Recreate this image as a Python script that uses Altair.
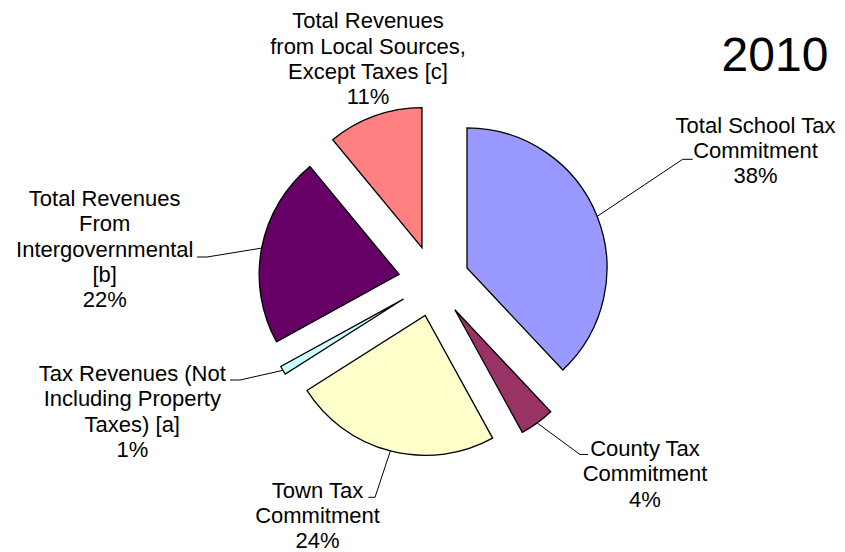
import math
import altair as alt
import pandas as pd
import numpy as np

# ---------------- data ----------------
categories = [
    "Total School Tax Commitment",
    "County Tax Commitment",
    "Town Tax Commitment",
    "Tax Revenues (Not Including Property Taxes) [a]",
    "Total Revenues From Intergovernmental [b]",
    "Total Revenues from Local Sources, Except Taxes [c]",
]
shares = [38, 4, 24, 1, 22, 11]
label_lines = [
    ["Total School Tax", "Commitment"],
    ["County Tax", "Commitment"],
    ["Town Tax", "Commitment"],
    ["Tax Revenues (Not", "Including Property", "Taxes) [a]"],
    ["Total Revenues", "From", "Intergovernmental", "[b]"],
    ["Total Revenues", "from Local Sources,", "Except Taxes [c]"],
]
chart_title = "2010"

# ---------------- style / layout ----------------
slice_colors = ["#9999FF", "#993366", "#FFFFCC", "#CCFFFF", "#660066", "#FF8080"]
FONT = "Liberation Sans"
FS = 22
LH = 25.3
W, H = 829, 544
MARGIN = 8
CX, CY = 434, 281          # pie centre in page pixels
RADIUS = 140
EXPLODE = 35.5
# label anchor: centre x, first-line baseline y (page pixels)
label_pos = [(755.5, 132.7), (645, 456), (317.5, 497.7), (132.3, 381), (104.7, 206), (368, 28.3)]
leader_elbow = [(682.7, 159.3), (580, 454.5), (375, 497.3), (240, 380), (207, 257), None]
leader_end = [(692.7, 159.3), (588, 454.5), (368.3, 497.3), (230, 380), (197, 257), None]
title_pos = (775, 70.7)


def to_data(px, py):
    return px - CX, CY - py


# ---------------- build tables ----------------
ends = np.cumsum(shares)
starts = ends - np.array(shares)
total = float(sum(shares))
mids = (starts + ends) / 2.0 / total * 2 * math.pi

pie = pd.DataFrame({
    "category": categories,
    "share": shares,
    "start": starts,
    "end": ends,
    "cx": EXPLODE * np.sin(mids),
    "cy": EXPLODE * np.cos(mids),
})

lead_rows = []
for i, cat in enumerate(categories):
    if leader_elbow[i] is None:
        continue
    r = EXPLODE + RADIUS
    lead_rows.append({"category": cat, "o": 0, "x": r * math.sin(mids[i]), "y": r * math.cos(mids[i])})
    ex, ey = to_data(*leader_elbow[i])
    lead_rows.append({"category": cat, "o": 1, "x": ex, "y": ey})
    nx, ny = to_data(*leader_end[i])
    lead_rows.append({"category": cat, "o": 2, "x": nx, "y": ny})
leads = pd.DataFrame(lead_rows)

lab_rows = []
for i, cat in enumerate(categories):
    lx, ly = to_data(*label_pos[i])
    lab_rows.append({"category": cat, "x": lx, "y": ly,
                     "label": "\n".join(label_lines[i] + [f"{shares[i]}%"])})
labels = pd.DataFrame(lab_rows)

tx, ty = to_data(*title_pos)
title_df = pd.DataFrame({"t": [chart_title], "x": [tx], "y": [ty]})

xs = alt.Scale(domain=[MARGIN - CX, MARGIN + W - CX], nice=False, zero=False)
ys = alt.Scale(domain=[CY - (MARGIN + H), CY - MARGIN], nice=False, zero=False)

arcs = alt.Chart(pie).mark_arc(radius=RADIUS, stroke="black", strokeWidth=1.3).encode(
    x=alt.X("cx:Q", scale=xs, axis=None),
    y=alt.Y("cy:Q", scale=ys, axis=None),
    theta=alt.Theta("start:Q", scale=alt.Scale(domain=[0, total], range=[0, 2 * math.pi]), stack=False),
    theta2=alt.Theta2("end:Q"),
    color=alt.Color("category:N", scale=alt.Scale(domain=categories, range=slice_colors), legend=None),
)

lines = alt.Chart(leads).mark_line(color="black", strokeWidth=1).encode(
    x=alt.X("x:Q", scale=xs, axis=None),
    y=alt.Y("y:Q", scale=ys, axis=None),
    detail="category:N",
    order="o:Q",
)

texts = alt.Chart(labels).mark_text(
    align="center", baseline="alphabetic", font=FONT, fontSize=FS,
    lineHeight=LH, lineBreak="\n", color="black"
).encode(
    x=alt.X("x:Q", scale=xs, axis=None),
    y=alt.Y("y:Q", scale=ys, axis=None),
    text="label:N",
)

title = alt.Chart(title_df).mark_text(
    align="center", baseline="alphabetic", font=FONT, fontSize=48, color="black"
).encode(
    x=alt.X("x:Q", scale=xs, axis=None),
    y=alt.Y("y:Q", scale=ys, axis=None),
    text="t:N",
)

chart = alt.layer(arcs, lines, texts, title).properties(
    width=W, height=H, padding=0, autosize="none", background="white"
).configure_view(strokeWidth=0)

chart.save("out.html", embed_options={"renderer": "svg", "actions": False})
